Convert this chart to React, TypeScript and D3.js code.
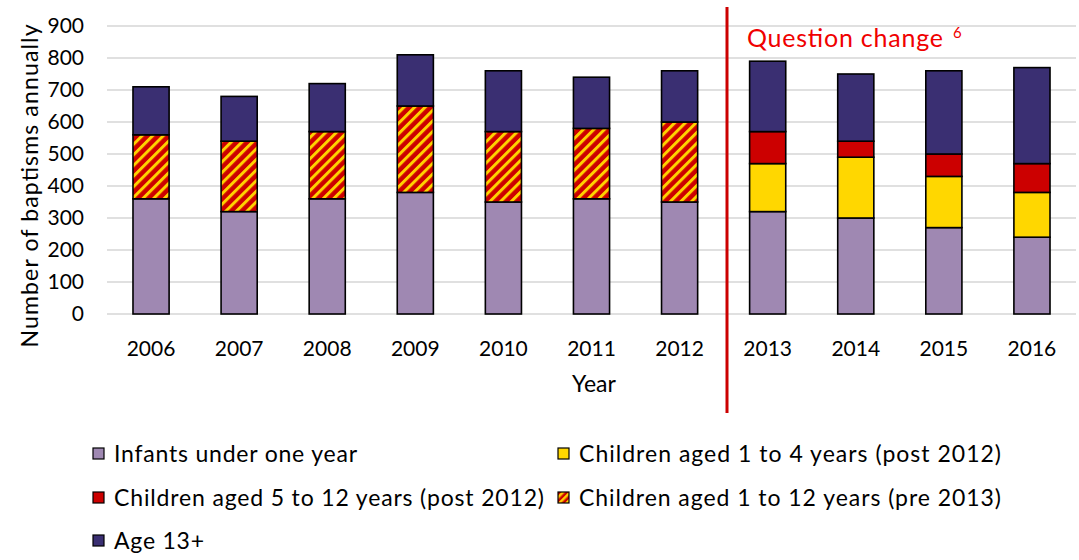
import React from "react";
import * as d3 from "d3";

const years = ["2006","2007","2008","2009","2010","2011","2012","2013","2014","2015","2016"];
const infants = [360,320,360,380,350,360,350,320,300,270,240];
const children1to4 = [0,0,0,0,0,0,0,150,190,160,140];
const children5to12 = [0,0,0,0,0,0,0,100,50,70,90];
const children1to12 = [200,220,210,270,220,220,250,0,0,0,0];
const age13 = [150,140,150,160,190,160,160,220,210,260,300];
const yTicks = [0,100,200,300,400,500,600,700,800,900];

const seriesKeys = ["infants","c14","c512","c112","a13"];
const seriesNames = [
  "Infants under one year",
  "Children aged 1 to 4 years (post 2012)",
  "Children aged 5 to 12 years (post 2012)",
  "Children aged 1 to 12 years (pre 2013)",
  "Age 13+",
];
const seriesFills = ["#9f88b2","#ffd700","#cc0000","url(#hatch)","#3a2f72"];
const legendFills = ["#9f88b2","#ffd700","#cc0000","url(#hatchL)","#3a2f72"];
const legendWidths = [243, 422, 430, 422, 90];

export default function App() {
  const W = 1079, H = 560;
  const left = 107, right = 1076, top = 26, bottom = 314;
  const x = d3.scaleBand().domain(years).range([left, right]).paddingInner(0.59).paddingOuter(0.295);
  const y = d3.scaleLinear().domain([0, 900]).range([bottom, top]);
  const rows = years.map((yr, i) => ({
    year: yr, infants: infants[i], c14: children1to4[i], c512: children5to12[i], c112: children1to12[i], a13: age13[i],
  }));
  const stack = d3.stack<any>().keys(["infants","c112","c14","c512","a13"])(rows);
  const font = "Lato, 'Open Sans', sans-serif";
  const legendPos = [
    [93, 454], [558, 454], [93, 498], [558, 498], [93, 541],
  ];
  return (
    <svg width={W} height={H} style={{ position: "absolute", left: 0, top: 0 }} fontFamily={font}>
      <defs>
        <pattern id="hatch" width="7.5" height="7.5" patternUnits="userSpaceOnUse" patternTransform="rotate(45)">
          <rect width="7.5" height="7.5" fill="#cc0000" />
          <rect width="3" height="7.5" fill="#ffd200" />
        </pattern>
        <pattern id="hatchL" width="5" height="5" patternUnits="userSpaceOnUse" patternTransform="rotate(45)">
          <rect width="5" height="5" fill="#cc0000" />
          <rect width="2.5" height="5" fill="#ffd200" />
        </pattern>
      </defs>
      <rect width={W} height={H} fill="#fff" />
      {yTicks.map((t) => (
        <g key={t}>
          <line x1={left} x2={right} y1={y(t)} y2={y(t)} stroke="#d6d6d6" strokeWidth={1.5} />
          <text x={84} y={y(t)} dy="0.35em" textAnchor="end" fontSize={21} fill="#000">{t}</text>
        </g>
      ))}
      {stack.map((s) => {
        const idx = seriesKeys.indexOf(s.key);
        return (
          <g key={s.key}>
            {s.map((d, i) => {
              if (d[1] - d[0] <= 0) return null;
              return (
                <rect key={i} x={x(years[i])!} width={x.bandwidth()} y={y(d[1])} height={y(d[0]) - y(d[1])}
                  fill={seriesFills[idx]} stroke="#000" strokeWidth={1.6} />
              );
            })}
          </g>
        );
      })}
      {years.map((yr) => (
        <text key={yr} x={x(yr)! + x.bandwidth() / 2} y={349} dy="0.35em" textAnchor="middle" fontSize={21}>{yr}</text>
      ))}
      <text x={594} y={384} dy="0.35em" textAnchor="middle" fontSize={23}>Year</text>
      <text transform={`translate(30,186) rotate(-90)`} dy="0.35em" textAnchor="middle" fontSize={23}
        textLength={323} lengthAdjust="spacing">Number of baptisms annually</text>
      <line x1={727} x2={727} y1={7} y2={413} stroke="#cc0000" strokeWidth={3} />
      <text x={747} y={47} fontSize={25} fill="#f00000" textLength={196} lengthAdjust="spacing">Question change</text>
      <text x={953} y={38} fontSize={15} fill="#f00000">6</text>
      {seriesNames.map((n, i) => (
        <g key={n}>
          <rect x={legendPos[i][0]} y={legendPos[i][1] - 6} width={11} height={11} fill={legendFills[i]} stroke="#000" strokeWidth={1.2} />
          <text x={legendPos[i][0] + 21} y={legendPos[i][1]} dy="0.35em" fontSize={23}
            textLength={legendWidths[i]} lengthAdjust="spacing">{n}</text>
        </g>
      ))}
    </svg>
  );
}
